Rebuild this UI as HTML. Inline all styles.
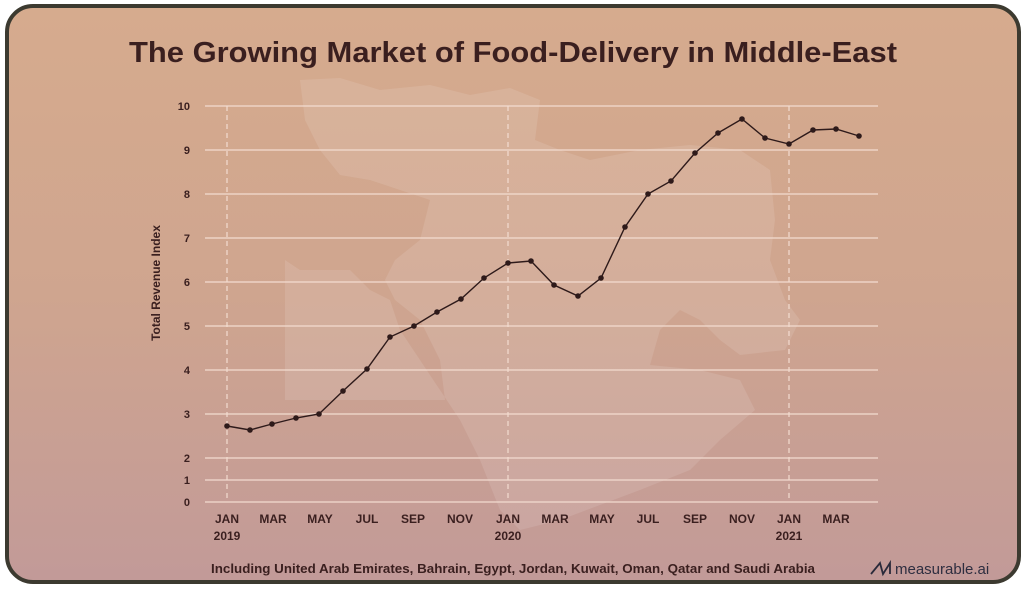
<!DOCTYPE html>
<html><head><meta charset="utf-8"><style>
html,body{margin:0;padding:0;background:#fff;width:1026px;height:589px;overflow:hidden}
svg{display:block}
text{font-family:"Liberation Sans",sans-serif;font-weight:bold;fill:#3a1f1f}
</style></head><body>
<svg width="1026" height="589" viewBox="0 0 1026 589">
<defs>
<linearGradient id="bg" x1="0" y1="0" x2="0" y2="1">
<stop offset="0" stop-color="#d6ab8e"/>
<stop offset="0.5" stop-color="#cfa58f"/>
<stop offset="1" stop-color="#c29a98"/>
</linearGradient>
</defs>
<rect x="7" y="6" width="1012" height="576" rx="26" fill="url(#bg)" stroke="#3c3a30" stroke-width="4"/>
<g fill="#ffffff" fill-opacity="0.11">
<path d="M300 80 L340 78 L380 90 L430 85 L470 95 L510 88 L540 100 L535 140 L560 150 L590 160 L640 150 L690 145 L740 150 L770 170 L775 220 L770 260 L785 300 L800 320 L785 350 L740 355 L720 340 L700 320 L680 310 L660 330 L650 365 L700 370 L740 380 L755 410 L720 440 L690 470 L640 490 L600 505 L560 520 L520 530 L500 510 L480 460 L460 420 L440 390 L420 360 L400 330 L390 300 L370 290 L350 270 L300 270 L285 260 L285 400 L445 400 L440 360 L420 320 L395 300 L385 280 L395 260 L420 240 L430 200 L400 190 L370 180 L340 175 L320 150 L305 120 Z"/>
</g>
<text x="513" y="62" text-anchor="middle" font-size="29" textLength="768" lengthAdjust="spacingAndGlyphs">The Growing Market of Food-Delivery in Middle-East</text>
<g stroke="#f3dcd0" stroke-width="1.3">
<line x1="205" x2="878" y1="106" y2="106"/><line x1="205" x2="878" y1="150" y2="150"/>
<line x1="205" x2="878" y1="194" y2="194"/><line x1="205" x2="878" y1="238" y2="238"/>
<line x1="205" x2="878" y1="282" y2="282"/><line x1="205" x2="878" y1="326" y2="326"/>
<line x1="205" x2="878" y1="370" y2="370"/><line x1="205" x2="878" y1="414" y2="414"/>
<line x1="205" x2="878" y1="458" y2="458"/><line x1="205" x2="878" y1="480" y2="480"/>
<line x1="205" x2="878" y1="502" y2="502"/>
</g>
<g stroke="#f3dcd0" stroke-width="1.2" stroke-dasharray="5,4">
<line x1="227" x2="227" y1="106" y2="502"/><line x1="508" x2="508" y1="106" y2="502"/><line x1="789" x2="789" y1="106" y2="502"/>
</g>
<g font-size="11" text-anchor="end">
<text x="190" y="110">10</text><text x="190" y="154">9</text><text x="190" y="198">8</text><text x="190" y="242">7</text>
<text x="190" y="286">6</text><text x="190" y="330">5</text><text x="190" y="374">4</text><text x="190" y="418">3</text>
<text x="190" y="462">2</text><text x="190" y="484">1</text><text x="190" y="506">0</text>
</g>
<text transform="translate(160 283) rotate(-90)" text-anchor="middle" font-size="12">Total Revenue Index</text>
<g font-size="12" text-anchor="middle">
<text x="227" y="523">JAN</text><text x="227" y="540">2019</text>
<text x="273" y="523">MAR</text><text x="320" y="523">MAY</text><text x="367" y="523">JUL</text>
<text x="413" y="523">SEP</text><text x="460" y="523">NOV</text>
<text x="508" y="523">JAN</text><text x="508" y="540">2020</text>
<text x="555" y="523">MAR</text><text x="602" y="523">MAY</text><text x="648" y="523">JUL</text>
<text x="695" y="523">SEP</text><text x="742" y="523">NOV</text>
<text x="789" y="523">JAN</text><text x="789" y="540">2021</text>
<text x="836" y="523">MAR</text>
</g>
<polyline fill="none" stroke="#2e1a1a" stroke-width="1.4" points="227,426 250,430 272,424 296,418 319,414 343,391 367,369 390,337 414,326 437,312 461,299 484,278 508,263 531,261 554,285 578,296 601,278 625,227 648,194 671,181 695,153 718,133 742,119 765,138 789,144 813,130 836,129 859,136"/>
<g fill="#2e1a1a">
<circle cx="227" cy="426" r="2.8"/><circle cx="250" cy="430" r="2.8"/><circle cx="272" cy="424" r="2.8"/><circle cx="296" cy="418" r="2.8"/><circle cx="319" cy="414" r="2.8"/><circle cx="343" cy="391" r="2.8"/><circle cx="367" cy="369" r="2.8"/><circle cx="390" cy="337" r="2.8"/><circle cx="414" cy="326" r="2.8"/><circle cx="437" cy="312" r="2.8"/><circle cx="461" cy="299" r="2.8"/><circle cx="484" cy="278" r="2.8"/><circle cx="508" cy="263" r="2.8"/><circle cx="531" cy="261" r="2.8"/><circle cx="554" cy="285" r="2.8"/><circle cx="578" cy="296" r="2.8"/><circle cx="601" cy="278" r="2.8"/><circle cx="625" cy="227" r="2.8"/><circle cx="648" cy="194" r="2.8"/><circle cx="671" cy="181" r="2.8"/><circle cx="695" cy="153" r="2.8"/><circle cx="718" cy="133" r="2.8"/><circle cx="742" cy="119" r="2.8"/><circle cx="765" cy="138" r="2.8"/><circle cx="789" cy="144" r="2.8"/><circle cx="813" cy="130" r="2.8"/><circle cx="836" cy="129" r="2.8"/><circle cx="859" cy="136" r="2.8"/>
</g>
<text x="513" y="573" text-anchor="middle" font-size="13" textLength="604" lengthAdjust="spacingAndGlyphs">Including United Arab Emirates, Bahrain, Egypt, Jordan, Kuwait, Oman, Qatar and Saudi Arabia</text>
<path d="M871 574 L880 563 L883 574 L890 563 L890 574" fill="none" stroke="#2a2a3a" stroke-width="1.8"/>
<text x="895" y="574" font-size="15" style="fill:#2e2e40;font-weight:normal">measurable.ai</text>
</svg>
</body></html>
